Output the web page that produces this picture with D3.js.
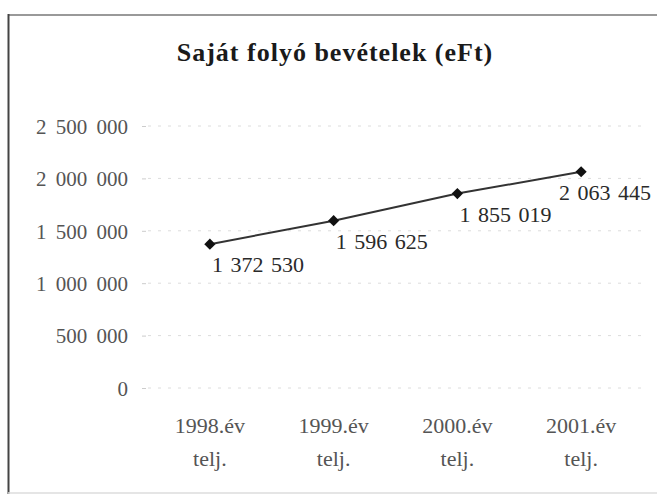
<!DOCTYPE html>
<html>
<head>
<meta charset="utf-8">
<script src="https://cdn.jsdelivr.net/npm/d3@7/dist/d3.min.js"></script>
<style>
  html, body { margin: 0; padding: 0; background: #fff; }
  text { font-family: "Liberation Serif", "Times New Roman", serif; }
</style>
</head>
<body>
<div id="chart"></div>
<script>
// adatok
const categories = ["1998.év telj.", "1999.év telj.", "2000.év telj.", "2001.év telj."];
const values = [1372530, 1596625, 1855019, 2063445];
const yTicks = [0, 500000, 1000000, 1500000, 2000000, 2500000];
const title = "Saját folyó bevételek (eFt)";

const W = 657, H = 500;
const margin = { top: 126, right: 14, bottom: 112, left: 148 };
const width = W - margin.left - margin.right,
      height = H - margin.top - margin.bottom;

const svg = d3.select("#chart").append("svg")
  .attr("width", W).attr("height", H);

// keret
svg.append("line").attr("x1", 8).attr("x2", W).attr("y1", 15).attr("y2", 15)
  .attr("stroke", "#777").attr("stroke-width", 1.5);
svg.append("line").attr("x1", 8.5).attr("x2", 8.5).attr("y1", 14).attr("y2", 494)
  .attr("stroke", "#444").attr("stroke-width", 2);
svg.append("line").attr("x1", 8).attr("x2", W).attr("y1", 493).attr("y2", 493)
  .attr("stroke", "#ddd").attr("stroke-width", 1.5);

svg.append("text")
  .attr("x", 335).attr("y", 61)
  .attr("text-anchor", "middle")
  .style("font-size", "26px").style("font-weight", "bold")
  .style("letter-spacing", "1px")
  .attr("fill", "#1a1a1a")
  .text(title);

const g = svg.append("g").attr("transform", `translate(${margin.left},${margin.top})`);

const x = d3.scaleBand().domain(categories).range([0, width]);
const y = d3.scaleLinear().domain([0, 2500000]).range([height, 0]);

// rácsvonalak
g.selectAll(".grid").data(yTicks).enter().append("line")
  .attr("x1", 0).attr("x2", width)
  .attr("y1", d => y(d)).attr("y2", d => y(d))
  .attr("stroke", "#dcdcdc").attr("stroke-width", 1)
  .attr("stroke-dasharray", "3,7");

// Y tengely
const fmt = v => d3.format(",")(v).replace(/,/g, " ");
const yAxis = g.append("g")
  .call(d3.axisLeft(y).tickValues(yTicks).tickFormat(fmt).tickSize(4).tickPadding(8));
yAxis.select(".domain").remove();
yAxis.selectAll(".tick line").attr("stroke", "#ccc").attr("transform", "translate(-2,0)");
yAxis.selectAll(".tick text")
  .style("font-size", "21px").style("word-spacing", "4px").attr("fill", "#555")
  .attr("x", -20).attr("dy", "0.35em");

// X tengely
const xAxis = g.append("g").attr("transform", `translate(0,${height})`)
  .call(d3.axisBottom(x).tickSize(0).tickPadding(0));
xAxis.select(".domain").remove();
xAxis.selectAll(".tick text").each(function(d) {
  const parts = d.split(" ");
  const t = d3.select(this).text(null)
    .style("font-size", "22px").attr("fill", "#555").attr("y", 45).attr("dy", 0);
  parts.forEach((p, i) => {
    t.append("tspan").attr("x", 0).attr("dy", i === 0 ? 0 : 33).text(p);
  });
});

// vonal
const line = d3.line()
  .x((d, i) => x(categories[i]) + x.bandwidth() / 2)
  .y(d => y(d));
g.append("path").datum(values)
  .attr("d", line).attr("fill", "none")
  .attr("stroke", "#333").attr("stroke-width", 2);

// jelölők
g.selectAll(".pt").data(values).enter().append("path")
  .attr("d", d3.symbol(d3.symbolDiamond2, 80))
  .attr("transform", (d, i) => `translate(${x(categories[i]) + x.bandwidth() / 2},${y(d)})`)
  .attr("fill", "#111");

// adatcímkék
g.selectAll(".lbl").data(values).enter().append("text")
  .style("font-size", "22px").style("word-spacing", "2px").attr("fill", "#2a2a2a")
  .attr("y", d => y(d) + 28)
  .text(d => fmt(d))
  .attr("x", function(d, i) {
    const cx = x(categories[i]) + x.bandwidth() / 2 + 2;
    const w = this.getComputedTextLength() + 4;
    return Math.min(cx, W - margin.left - 2 - w);
  });
</script>
</body>
</html>
